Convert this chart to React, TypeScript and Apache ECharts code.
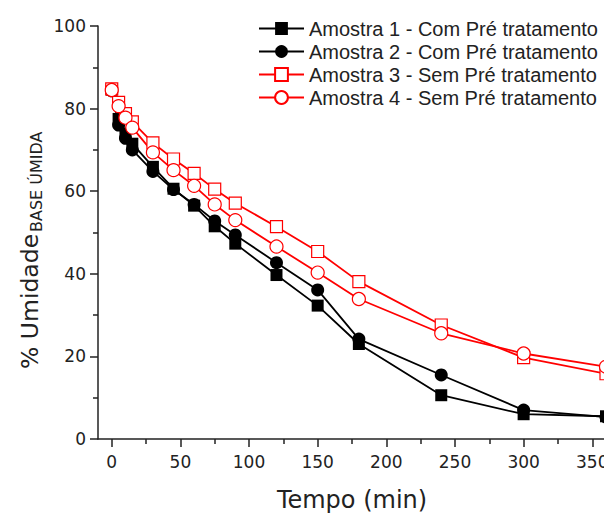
import React, { useEffect, useRef } from "react";
import * as echarts from "echarts";

const times = [0, 5, 10, 15, 30, 45, 60, 75, 90, 120, 150, 180, 240, 300, 360];
const amostra1 = [84.6, 77.5, 74.0, 71.5, 65.9, 60.6, 56.5, 51.5, 47.3, 39.7, 32.3, 23.0, 10.6, 6.0, 5.5];
const amostra2 = [84.3, 76.0, 72.8, 70.0, 64.8, 60.4, 56.8, 52.8, 49.4, 42.7, 36.1, 24.2, 15.5, 7.0, 5.3];
const amostra3 = [84.8, 81.5, 78.8, 76.8, 71.7, 67.8, 64.3, 60.5, 57.1, 51.4, 45.4, 38.1, 27.6, 19.7, 15.8];
const amostra4 = [84.5, 80.6, 77.8, 75.4, 69.4, 65.1, 61.3, 56.8, 53.0, 46.6, 40.3, 33.9, 25.6, 20.7, 17.5];

const seriesNames = [
  "Amostra 1 - Com Pré tratamento",
  "Amostra 2 - Com Pré tratamento",
  "Amostra 3 - Sem Pré tratamento",
  "Amostra 4 - Sem Pré tratamento",
];

const xMajorTicks = [0, 50, 100, 150, 200, 250, 300, 350];
const xMinorTicks = [25, 75, 125, 175, 225, 275, 325];

const xAxisTitle = "Tempo (min)";
const yAxisTitle = "% Umidade";
const yAxisSub = "BASE ÚMIDA";

const pair = (ys: number[]) => times.map((t, i) => [t, ys[i]]);

export default function App() {
  const ref = useRef<HTMLDivElement>(null);
  useEffect(() => {
    if (!ref.current) return;
    const chart = echarts.init(ref.current, null, { renderer: "svg" });
    const tickFont = { fontFamily: "DejaVu Sans", fontSize: 17, color: "#222" };
    const mk = (
      name: string,
      data: number[],
      symbol: string,
      size: number,
      color: string,
      filled: boolean
    ) => ({
      name,
      type: "line",
      data: pair(data),
      symbol,
      symbolSize: size,
      showSymbol: true,
      lineStyle: { color, width: 1.8 },
      itemStyle: filled
        ? { color, borderColor: color, borderWidth: 0 }
        : { color: "#fff", borderColor: color, borderWidth: 1.2 },
      emphasis: { disabled: true },
      clip: false,
    });
    chart.setOption({
      animation: false,
      backgroundColor: "#fff",
      grid: {
        left: 98,
        right: -2,
        top: 26,
        bottom: 77,
        containLabel: false,
        outerBoundsMode: "none",
      },
      legend: {
        orient: "vertical",
        left: 258,
        top: 17,
        padding: 0,
        itemWidth: 45,
        itemHeight: 16,
        itemGap: 0,
        textStyle: {
          fontFamily: "Liberation Sans",
          fontSize: 20,
          color: "#222",
          lineHeight: 23,
        },
        data: seriesNames,
      },
      xAxis: [
        {
          type: "value",
          min: -10,
          max: 360,
          name: xAxisTitle,
          nameLocation: "middle",
          nameGap: 49,
          nameTextStyle: { fontFamily: "DejaVu Sans", fontSize: 24, color: "#222" },
          axisLine: { onZero: false, lineStyle: { color: "#222", width: 1.5 } },
          axisTick: { show: true, length: 8, lineStyle: { color: "#222", width: 1.5 }, customValues: xMajorTicks },
          axisLabel: { ...tickFont, margin: 14, customValues: xMajorTicks, hideOverlap: false },
          splitLine: { show: false },
        },
        {
          type: "value",
          min: -10,
          max: 360,
          position: "bottom",
          axisLine: { show: false, onZero: false },
          axisTick: { show: true, length: 5, lineStyle: { color: "#222", width: 1.5 }, customValues: xMinorTicks },
          axisLabel: { show: false },
          splitLine: { show: false },
        },
      ],
      yAxis: {
        type: "value",
        min: 0,
        max: 100,
        interval: 20,
        axisLine: { show: true, onZero: false, lineStyle: { color: "#222", width: 1.5 } },
        axisTick: { show: true, length: 8, lineStyle: { color: "#222", width: 1.5 } },
        minorTick: { show: true, splitNumber: 2, length: 5, lineStyle: { color: "#222", width: 1.5 } },
        axisLabel: { ...tickFont, margin: 12 },
        splitLine: { show: false },
        minorSplitLine: { show: false },
      },
      graphic: [
        {
          type: "text",
          x: 29.5,
          y: 369,
          rotation: Math.PI / 2,
          style: {
            text: yAxisTitle,
            fontFamily: "DejaVu Sans",
            fontSize: 23.5,
            fill: "#222",
            align: "left",
            verticalAlign: "middle",
          },
        },
        {
          type: "text",
          x: 36.5,
          y: 232,
          rotation: Math.PI / 2,
          style: {
            text: yAxisSub,
            fontFamily: "DejaVu Sans",
            fontSize: 16,
            fill: "#222",
            align: "left",
            verticalAlign: "middle",
          },
        },
      ],
      series: [
        mk(seriesNames[0], amostra1, "rect", 12, "#000", true),
        mk(seriesNames[1], amostra2, "circle", 13, "#000", true),
        mk(seriesNames[2], amostra3, "rect", 12, "#ff0000", false),
        mk(seriesNames[3], amostra4, "circle", 13, "#ff0000", false),
      ],
    });
    return () => chart.dispose();
  }, []);
  return (
    <div
      ref={ref}
      style={{ position: "fixed", left: 0, top: 0, width: 604, height: 516 }}
    />
  );
}
